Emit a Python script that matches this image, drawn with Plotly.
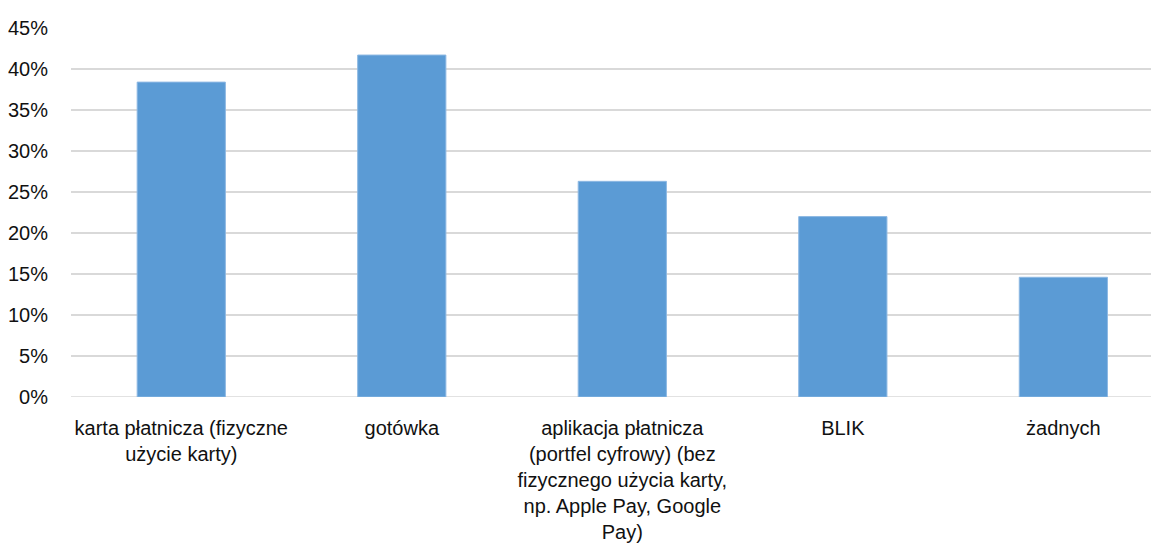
import plotly.graph_objects as go

categories = [
    "karta płatnicza (fizyczne<br>użycie karty)",
    "gotówka",
    "aplikacja płatnicza<br>(portfel cyfrowy) (bez<br>fizycznego użycia karty,<br>np. Apple Pay, Google<br>Pay)",
    "BLIK",
    "żadnych",
]
values = [38.4, 41.7, 26.3, 22.0, 14.6]
tick_vals = [0, 5, 10, 15, 20, 25, 30, 35, 40, 45]
tick_text = [f"{v}%" for v in tick_vals]

font_family = "Liberation Sans, Arial, sans-serif"

fig = go.Figure(
    go.Bar(
        x=categories,
        y=values,
        width=0.4,
        marker=dict(color="#5B9BD5", line=dict(color="#8DB8E3", width=1)),
        hoverinfo="skip",
    )
)

fig.update_layout(
    width=1159,
    height=547,
    margin=dict(l=63, r=0, t=20, b=158, autoexpand=False),
    paper_bgcolor="white",
    plot_bgcolor="white",
    showlegend=False,
    font=dict(family=font_family, size=20, color="#111111"),
)
fig.update_xaxes(
    range=[-0.5, 4.470],
    showgrid=False,
    showline=False,
    zeroline=False,
    ticks="",
    ticklabelstandoff=17,
    tickangle=0,
    automargin=False,
    tickfont=dict(family=font_family, size=20, color="#111111"),
)
fig.update_yaxes(
    range=[0, 45],
    tickvals=tick_vals,
    ticktext=tick_text,
    showgrid=True,
    gridcolor="#D9D9D9",
    gridwidth=1.5,
    zeroline=False,
    showline=False,
    ticks="",
    ticklabelstandoff=22,
    automargin=False,
    tickfont=dict(family=font_family, size=20, color="#111111"),
)
fig.add_hline(y=0, line=dict(color="#D9D9D9", width=1.5), layer="below")

fig.write_html("out.html")
